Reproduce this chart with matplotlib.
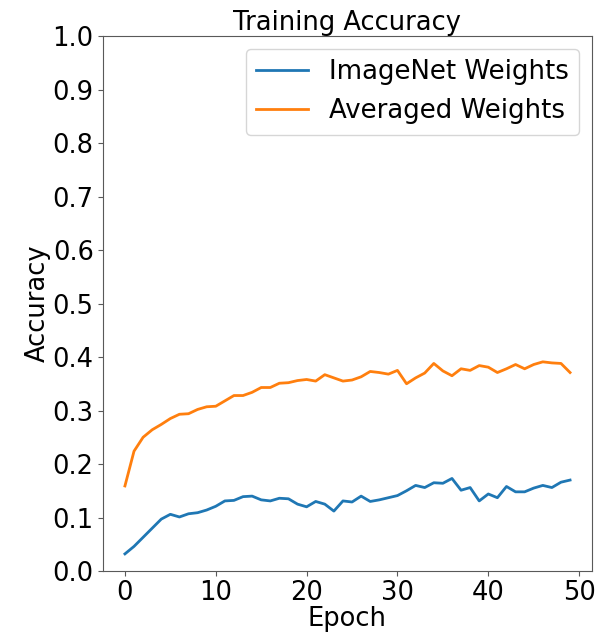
import matplotlib
matplotlib.use("Agg")
import matplotlib.pyplot as plt
import numpy as np

epochs = list(range(50))
imagenet_acc = [0.032, 0.046, 0.063, 0.080, 0.097, 0.106, 0.101, 0.107, 0.109, 0.114,
                0.121, 0.131, 0.132, 0.139, 0.140, 0.133, 0.131, 0.136, 0.135, 0.125,
                0.120, 0.130, 0.125, 0.112, 0.131, 0.129, 0.140, 0.130, 0.133, 0.137,
                0.141, 0.150, 0.160, 0.156, 0.165, 0.164, 0.173, 0.151, 0.156, 0.131,
                0.144, 0.137, 0.158, 0.148, 0.148, 0.155, 0.160, 0.156, 0.166, 0.170]
averaged_acc = [0.159, 0.224, 0.250, 0.264, 0.274, 0.285, 0.293, 0.294, 0.302, 0.307,
                0.308, 0.318, 0.328, 0.328, 0.334, 0.343, 0.343, 0.351, 0.352, 0.356,
                0.358, 0.355, 0.367, 0.361, 0.355, 0.357, 0.363, 0.373, 0.371, 0.368,
                0.375, 0.350, 0.361, 0.370, 0.388, 0.374, 0.365, 0.378, 0.375, 0.384,
                0.381, 0.371, 0.378, 0.386, 0.378, 0.386, 0.391, 0.389, 0.388, 0.371]

fig = plt.figure(figsize=(5.98, 6.32), dpi=100)
ax = fig.add_axes([0.1717, 0.0965, 0.8188, 0.8465])
ax.plot(epochs, imagenet_acc, color="#1f77b4", lw=2.0, label="ImageNet Weights")
ax.plot(epochs, averaged_acc, color="#ff7f0e", lw=2.0, label="Averaged Weights")
ax.set_ylim(0, 1.0)
ax.set_yticks(np.arange(0, 1.01, 0.1))
ax.set_xticks([0, 10, 20, 30, 40, 50])
for s in ax.spines.values():
    s.set_edgecolor("0.35")
ax.tick_params(labelsize=18.5, color="0.35", pad=3)
ax.set_title("Training Accuracy", fontsize=18.5, pad=4)
ax.set_xlabel("Epoch", fontsize=18.5, labelpad=0)
ax.set_ylabel("Accuracy", fontsize=18.5, labelpad=1)
ax.legend(fontsize=18.7, loc="upper right")
fig.savefig("out.png", dpi=100)
